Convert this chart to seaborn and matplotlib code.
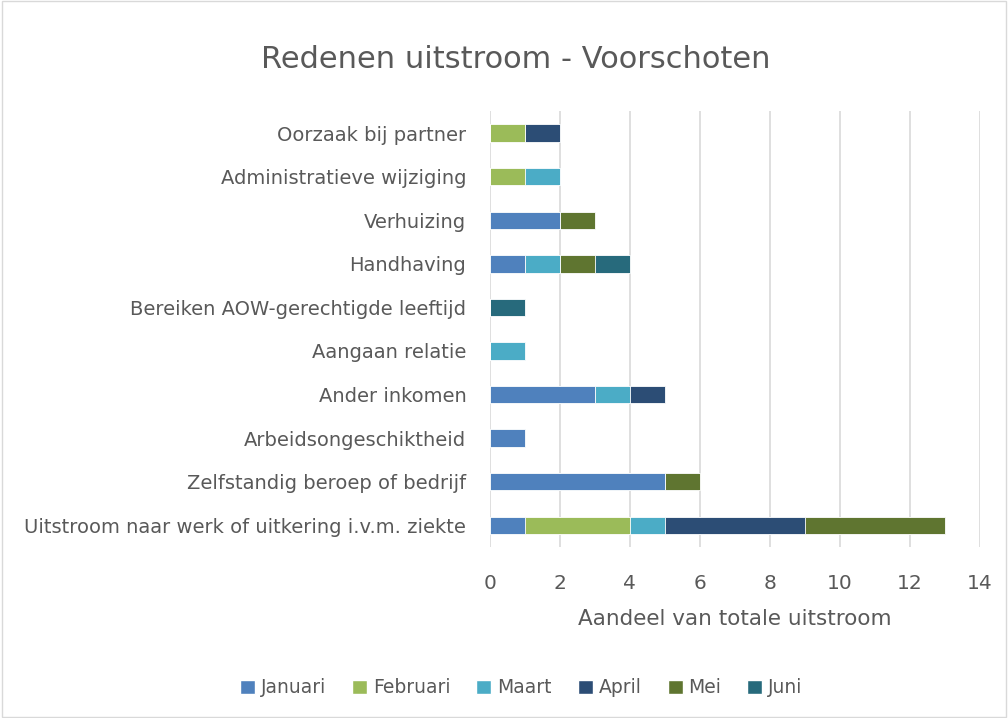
import numpy as np
import pandas as pd
import matplotlib.pyplot as plt
import seaborn as sns
from matplotlib.patches import Patch

# data (top to bottom as in chart)
categories = ['Oorzaak bij partner', 'Administratieve wijziging', 'Verhuizing', 'Handhaving',
              'Bereiken AOW-gerechtigde leeftijd', 'Aangaan relatie', 'Ander inkomen',
              'Arbeidsongeschiktheid', 'Zelfstandig beroep of bedrijf',
              'Uitstroom naar werk of uitkering i.v.m. ziekte']
months = ['Januari', 'Februari', 'Maart', 'April', 'Mei', 'Juni']
januari = [0, 0, 2, 1, 0, 0, 3, 1, 5, 1]
februari = [1, 1, 0, 0, 0, 0, 0, 0, 0, 3]
maart = [0, 1, 0, 1, 0, 1, 1, 0, 0, 1]
april = [1, 0, 0, 0, 0, 0, 1, 0, 0, 4]
mei = [0, 0, 1, 1, 0, 0, 0, 0, 1, 4]
juni = [0, 0, 0, 1, 1, 0, 0, 0, 0, 0]
colors = ['#4F81BD', '#9BBB59', '#4BACC6', '#2C4D75', '#5F7530', '#276A7C']

df = pd.DataFrame({'categorie': categories, 'Januari': januari, 'Februari': februari,
                   'Maart': maart, 'April': april, 'Mei': mei, 'Juni': juni})
cum = df[months].cumsum(axis=1)
cum['categorie'] = df['categorie']

sns.set_theme(style='white')
txt = '#595959'
fig = plt.figure(figsize=(10.08, 7.18), dpi=100)
ax = fig.add_axes([0.486, 0.238, 0.486, 0.607])

# overlay cumulative totals, largest first
for m, c in reversed(list(zip(months, colors))):
    sns.barplot(data=cum, x=m, y='categorie', order=categories, color=c, width=0.4,
                edgecolor='white', linewidth=0.6, saturation=1, ax=ax, orient='h')

ax.set_xlim(0, 14)
ax.set_xticks(range(0, 15, 2))
ax.xaxis.grid(True, color='#D9D9D9', linewidth=1.2)
ax.set_axisbelow(True)
for s in ax.spines.values():
    s.set_visible(False)
ax.tick_params(axis='x', length=0, labelsize=14.5, colors=txt, pad=19)
ax.tick_params(axis='y', length=0, labelsize=14, colors=txt, pad=17)
ax.set_ylabel('')
ax.set_xlabel('Aandeel van totale uitstroom', fontsize=15.5, color=txt, labelpad=12)

fig.suptitle('Redenen uitstroom - Voorschoten', fontsize=22, color=txt, x=0.512, y=0.937)

handles = [Patch(facecolor=c, label=m) for m, c in zip(months, colors)]
fig.legend(handles=handles, loc='center', bbox_to_anchor=(0.517, 0.042), ncol=6,
           frameon=False, fontsize=13.5, labelcolor=txt, handlelength=0.8, handleheight=0.8,
           handletextpad=0.3, columnspacing=1.4)

border = plt.Rectangle((0.002, 0.002), 0.996, 0.996, transform=fig.transFigure,
                       fill=False, edgecolor='#D9D9D9', linewidth=1)
fig.patches.append(border)

fig.savefig('out.png', dpi=100)
